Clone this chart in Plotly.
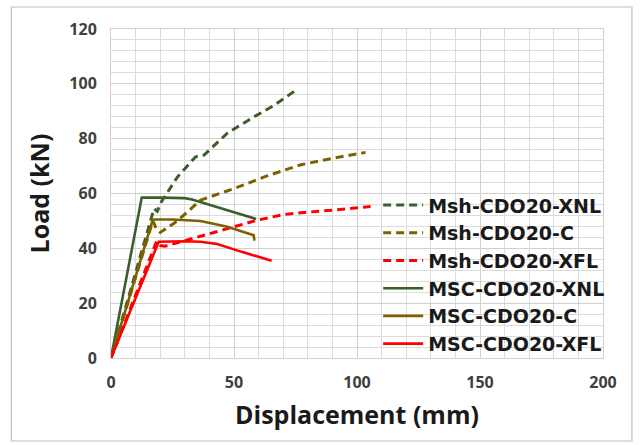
import plotly.graph_objects as go

# Data
msh_xnl_x = [0, 17.5, 18.8, 20.5, 27, 34.4, 37.8, 47.3, 58.2, 66, 74.6, 75.2]
msh_xnl_y = [0, 54.5, 53.5, 57, 66, 73.4, 74, 82, 88, 92, 97.3, 95.8]

msh_c_x = [0, 17, 18.5, 20, 27, 36.4, 50, 63.7, 77.3, 91, 103.5]
msh_c_y = [0, 50, 47, 45.8, 50, 57.6, 61.8, 66.5, 70.5, 73, 75]

msh_xfl_x = [0, 18.5, 20, 22, 36.4, 50, 59.6, 70, 77.3, 91, 105.5]
msh_xfl_y = [0, 42.5, 41, 40.8, 44.4, 47.9, 50.3, 52.3, 53, 54, 55.3]

msc_xnl_x = [0, 12.5, 20, 30, 33, 40, 50, 59]
msc_xnl_y = [0, 58.5, 58.5, 58.3, 57.8, 55.8, 53.2, 50.7]

msc_c_x = [0, 17, 25, 36.4, 47.3, 56, 58, 58.3]
msc_c_y = [0, 50.5, 50.5, 50, 47.9, 45.6, 44.8, 42.8]

msc_xfl_x = [0, 19.4, 30, 36.4, 43.2, 52.8, 65.3]
msc_xfl_y = [0, 42.4, 42.6, 42.4, 41.6, 38.8, 35.5]

names = ["Msh-CDO20-XNL", "Msh-CDO20-C", "Msh-CDO20-XFL",
         "MSC-CDO20-XNL", "MSC-CDO20-C", "MSC-CDO20-XFL"]

GREEN = "#3b5e2b"
OLIVE = "#7f6000"
RED = "#ff0000"

series = [
    (msh_xnl_x, msh_xnl_y, GREEN, "dash"),
    (msh_c_x, msh_c_y, OLIVE, "dash"),
    (msh_xfl_x, msh_xfl_y, RED, "dash"),
    (msc_xnl_x, msc_xnl_y, GREEN, "solid"),
    (msc_c_x, msc_c_y, OLIVE, "solid"),
    (msc_xfl_x, msc_xfl_y, RED, "solid"),
]

fig = go.Figure()
for (xs, ys, col, dash), nm in zip(series, names):
    fig.add_trace(go.Scatter(
        x=xs, y=ys, mode="lines", name=nm,
        line=dict(color=col, width=3 if dash == "dash" else 2.6,
                  dash="8px,5px" if dash == "dash" else "solid"),
    ))

FONT = "Open Sans"
TICKCOL = "#404040"
fig.update_layout(
    width=642, height=445,
    margin=dict(l=111, r=39, t=29, b=87),
    paper_bgcolor="white", plot_bgcolor="white",
    font=dict(family=FONT, color="#262626"),
    showlegend=True,
    legend=dict(
        x=0.543, y=0.522, xanchor="left", yanchor="top",
        bgcolor="rgba(0,0,0,0)",
        font=dict(family="DejaVu Sans", size=19, weight="bold", color="#1a1a1a"),
        tracegroupgap=0, itemwidth=40,
    ),
    xaxis=dict(
        range=[0, 200], dtick=50, tick0=0,
        showgrid=True, gridcolor="#d0d0d0", gridwidth=1,
        minor=dict(dtick=10, showgrid=True, gridcolor="#dcdcdc", gridwidth=1),
        zeroline=False, showline=True, linecolor="#d0d0d0", mirror=True,
        ticks="", tickfont=dict(family=FONT, size=16, weight="bold", color=TICKCOL),
        ticklabelstandoff=10,
        title=dict(text="Displacement (mm)", standoff=14,
                   font=dict(family=FONT, size=25, weight="bold", color="#1a1a1a")),
    ),
    yaxis=dict(
        range=[0, 120], dtick=20, tick0=0,
        showgrid=True, gridcolor="#d0d0d0", gridwidth=1,
        minor=dict(dtick=4, showgrid=True, gridcolor="#dcdcdc", gridwidth=1),
        zeroline=False, showline=True, linecolor="#d0d0d0", mirror=True,
        ticks="", tickfont=dict(family=FONT, size=16, weight="bold", color=TICKCOL),
        ticklabelstandoff=10,
        title=dict(text="Load (kN)", standoff=12,
                   font=dict(family=FONT, size=25, weight="bold", color="#1a1a1a")),
    ),
)

# outer chart border
fig.add_shape(type="rect", xref="paper", yref="paper",
              x0=-0.2024, x1=1.0589, y0=-0.2523, y1=1.0669,
              line=dict(color="#bfbfbf", width=1.2), fillcolor="rgba(0,0,0,0)",
              layer="below")

fig.write_html("out.html")
